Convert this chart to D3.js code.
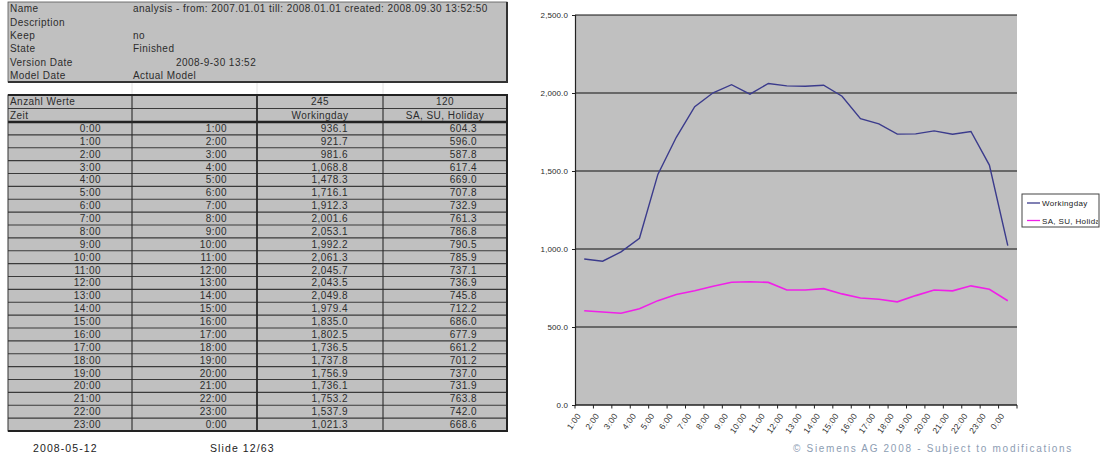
<!DOCTYPE html>
<html>
<head>
<meta charset="utf-8">
<script src="https://cdn.jsdelivr.net/npm/d3@7"></script>
<style>
  html, body { margin: 0; padding: 0; background: #fff; }
  svg { display: block; font-family: "Liberation Sans", Arial, sans-serif; }
</style>
</head>
<body>
<svg id="page" width="1102" height="459"></svg>
<script>
// Hourly load profile: interval start, interval end, average per day type
const fromTimes = ["0:00","1:00","2:00","3:00","4:00","5:00","6:00","7:00","8:00","9:00","10:00","11:00",
  "12:00","13:00","14:00","15:00","16:00","17:00","18:00","19:00","20:00","21:00","22:00","23:00"];
const toTimes = ["1:00","2:00","3:00","4:00","5:00","6:00","7:00","8:00","9:00","10:00","11:00","12:00",
  "13:00","14:00","15:00","16:00","17:00","18:00","19:00","20:00","21:00","22:00","23:00","0:00"];
const workingday = [936.1, 921.7, 981.6, 1068.8, 1478.3, 1716.1, 1912.3, 2001.6, 2053.1, 1992.2, 2061.3, 2045.7,
  2043.5, 2049.8, 1979.4, 1835.0, 1802.5, 1736.5, 1737.8, 1756.9, 1736.1, 1753.2, 1537.9, 1021.3];
const holiday = [604.3, 596.0, 587.8, 617.4, 669.0, 707.8, 732.9, 761.3, 786.8, 790.5, 785.9, 737.1,
  736.9, 745.8, 712.2, 686.0, 677.9, 661.2, 701.2, 737.0, 731.9, 763.8, 742.0, 668.6];
const seriesNames = ["Workingday", "SA, SU, Holiday"];
const valueCounts = [245, 120];
const yTickValues = [0, 500, 1000, 1500, 2000, 2500];

// Analysis header block
const metaLabels = ["Name", "Description", "Keep", "State", "Version Date", "Model Date"];
const metaValues = ["analysis - from: 2007.01.01 till: 2008.01.01 created: 2008.09.30 13:52:50", "", "no", "Finished", "2008-9-30 13:52", "Actual Model"];

const svg = d3.select("#page");
const fmt = d3.format(",.1f");
const cellFill = "#c0c0c0";
const ink = "#2c2c2c";
const cellFont = 10, cellSpacing = 0.45;

// ---------- Table ----------
const colEdges = [8, 132, 257, 383, 507];
const colRight = [101, 227, 348, 477];

// header block
const metaY = d3.scaleBand().domain(d3.range(metaLabels.length)).range([2, 82]);
const meta = svg.append("g");
meta.append("rect").attr("x", colEdges[0]).attr("y", 2).attr("width", colEdges[4] - colEdges[0]).attr("height", 80)
  .attr("fill", cellFill).attr("stroke", "#555").attr("stroke-width", 0.8);
meta.append("path").attr("d", `M${colEdges[4]},2V82H${colEdges[0]}`).attr("fill", "none")
  .attr("stroke", "#333").attr("stroke-width", 2);
meta.selectAll("text.lab").data(metaLabels).join("text").attr("class", "lab")
  .attr("x", 10).attr("y", (d, i) => metaY(i) + metaY.bandwidth() / 2 + 3.5)
  .attr("font-size", cellFont).attr("letter-spacing", cellSpacing).attr("fill", ink).text(d => d);
meta.selectAll("text.val").data(metaValues).join("text").attr("class", "val")
  .attr("x", (d, i) => i === 4 ? 176 : 133).attr("y", (d, i) => metaY(i) + metaY.bandwidth() / 2 + 3.5)
  .attr("font-size", cellFont).attr("letter-spacing", cellSpacing).attr("fill", ink).text(d => d);

// faint cell grid in the gap between the blocks
svg.append("g").selectAll("line").data(colEdges.slice(1, 4)).join("line")
  .attr("x1", d => d).attr("x2", d => d).attr("y1", 83).attr("y2", 95)
  .attr("stroke", "#e2e2e2");

// data table
const tableTop = 95, headerBottom = 122, tableBottom = 431;
const rowY = d3.scaleBand().domain(d3.range(fromTimes.length)).range([headerBottom, tableBottom]);
const headY = d3.scaleBand().domain([0, 1]).range([tableTop, headerBottom]);
const tbl = svg.append("g");
tbl.append("rect").attr("x", colEdges[0]).attr("y", tableTop).attr("width", colEdges[4] - colEdges[0])
  .attr("height", tableBottom - tableTop).attr("fill", cellFill);

// row separators
const rowLines = d3.range(1, fromTimes.length).map(i => rowY(i));
tbl.selectAll("line.row").data(rowLines).join("line").attr("class", "row")
  .attr("x1", colEdges[0]).attr("x2", colEdges[4]).attr("y1", d => d).attr("y2", d => d)
  .attr("stroke", "#3a3a3a").attr("stroke-width", 1.2);
tbl.append("line").attr("x1", colEdges[0]).attr("x2", colEdges[4]).attr("y1", headY(1)).attr("y2", headY(1))
  .attr("stroke", "#3a3a3a").attr("stroke-width", 1.2);
tbl.append("line").attr("x1", colEdges[0]).attr("x2", colEdges[4]).attr("y1", headerBottom).attr("y2", headerBottom)
  .attr("stroke", "#222").attr("stroke-width", 2.4);
// column separators
tbl.selectAll("line.col").data(colEdges.slice(1, 4)).join("line").attr("class", "col")
  .attr("x1", d => d).attr("x2", d => d).attr("y1", tableTop).attr("y2", tableBottom)
  .attr("stroke", "#2a2a2a").attr("stroke-width", (d, i) => i === 1 ? 1.8 : 1.1);
// outer frame
tbl.append("rect").attr("x", colEdges[0]).attr("y", tableTop).attr("width", colEdges[4] - colEdges[0])
  .attr("height", tableBottom - tableTop).attr("fill", "none").attr("stroke", "#333").attr("stroke-width", 1);
tbl.append("path").attr("d", `M${colEdges[0]},${tableTop}H${colEdges[4]}V${tableBottom}H${colEdges[0]}`)
  .attr("fill", "none").attr("stroke", "#222").attr("stroke-width", 2);

// header texts
const hy = i => headY(i) + headY.bandwidth() / 2 + 3.5;
tbl.append("text").attr("x", 10).attr("y", hy(0)).attr("font-size", cellFont).attr("letter-spacing", cellSpacing)
  .attr("fill", ink).text("Anzahl Werte");
tbl.append("text").attr("x", 10).attr("y", hy(1)).attr("font-size", cellFont).attr("letter-spacing", cellSpacing)
  .attr("fill", ink).text("Zeit");
tbl.selectAll("text.cnt").data(valueCounts).join("text").attr("class", "cnt")
  .attr("x", (d, i) => (colEdges[2 + i] + colEdges[3 + i]) / 2).attr("y", hy(0))
  .attr("text-anchor", "middle").attr("font-size", cellFont).attr("letter-spacing", cellSpacing)
  .attr("fill", ink).text(d => d);
tbl.selectAll("text.ser").data(seriesNames).join("text").attr("class", "ser")
  .attr("x", (d, i) => (colEdges[2 + i] + colEdges[3 + i]) / 2).attr("y", hy(1))
  .attr("text-anchor", "middle").attr("font-size", cellFont).attr("letter-spacing", cellSpacing)
  .attr("fill", ink).text(d => d);

// body texts
const rows = fromTimes.map((t, i) => [t, toTimes[i], fmt(workingday[i]), fmt(holiday[i])]);
const rowG = tbl.selectAll("g.r").data(rows).join("g").attr("class", "r")
  .attr("transform", (d, i) => `translate(0,${rowY(i) + rowY.bandwidth() / 2 + 3.5})`);
rowG.selectAll("text").data(d => d).join("text")
  .attr("x", (d, j) => colRight[j]).attr("text-anchor", "end")
  .attr("font-size", cellFont).attr("letter-spacing", cellSpacing).attr("fill", ink).text(d => d);

// footer (left)
svg.append("text").attr("x", 33).attr("y", 452).attr("font-size", 10.5).attr("fill", "#222")
  .attr("letter-spacing", 1.1).text("2008-05-12");
svg.append("text").attr("x", 210).attr("y", 452).attr("font-size", 10.5).attr("fill", "#222")
  .attr("letter-spacing", 1.1).text("Slide 12/63");

// ---------- Line chart ----------
const plot = { left: 575, right: 1017, top: 15, bottom: 405 };
const x = d3.scaleBand().domain(toTimes).range([plot.left, plot.right]);
const y = d3.scaleLinear().domain([0, 2500]).range([plot.bottom, plot.top]);
const cx = d => x(d) + x.bandwidth() / 2;

const chart = svg.append("g");
chart.append("rect").attr("x", plot.left).attr("y", plot.top)
  .attr("width", plot.right - plot.left).attr("height", plot.bottom - plot.top).attr("fill", cellFill);

// gridlines
chart.selectAll("line.grid").data(yTickValues.filter(v => v > 0)).join("line").attr("class", "grid")
  .attr("x1", plot.left).attr("x2", plot.right).attr("y1", d => y(d)).attr("y2", d => y(d))
  .attr("stroke", "#111").attr("stroke-width", 1.2);

// y axis
const yAxis = chart.append("g").attr("transform", `translate(${plot.left},0)`)
  .call(d3.axisLeft(y).tickValues(yTickValues).tickFormat(fmt).tickSize(3).tickPadding(4));
yAxis.select(".domain").attr("stroke", "#222").attr("stroke-width", 1.2);
yAxis.selectAll(".tick line").attr("stroke", "#222");
yAxis.selectAll("text").attr("font-size", 8).attr("fill", "#2a2a2a").attr("letter-spacing", 0.1)
  .attr("font-family", "Liberation Sans, Arial, sans-serif");

// x axis (ticks between categories)
const xAxis = chart.append("g").attr("transform", `translate(0,${plot.bottom})`);
xAxis.append("line").attr("x1", plot.left).attr("x2", plot.right).attr("stroke", "#222").attr("stroke-width", 1.3);
const tickPos = toTimes.map(d => x(d)).concat([plot.right]);
xAxis.selectAll("line.t").data(tickPos).join("line").attr("class", "t")
  .attr("x1", d => d).attr("x2", d => d).attr("y1", 0).attr("y2", 3.5).attr("stroke", "#222");
xAxis.selectAll("text").data(toTimes).join("text")
  .attr("transform", d => `translate(${cx(d) - 3},${11}) rotate(-55)`)
  .attr("text-anchor", "end").attr("font-size", 8.5).attr("letter-spacing", 0.2)
  .attr("fill", "#333").text(d => d);

// series
const line = d3.line().x((d, i) => cx(toTimes[i])).y(d => y(d));
chart.append("path").datum(holiday).attr("d", line).attr("fill", "none")
  .attr("stroke", "#f020e8").attr("stroke-width", 1.6);
chart.append("path").datum(workingday).attr("d", line).attr("fill", "none")
  .attr("stroke", "#3b3b8c").attr("stroke-width", 1.4);

// legend (entries clipped to the box)
const lg = { x: 1022, y: 194, w: 77, h: 33 };
svg.append("clipPath").attr("id", "legclip").append("rect")
  .attr("x", lg.x).attr("y", lg.y).attr("width", lg.w - 1).attr("height", lg.h);
const legend = svg.append("g");
legend.append("rect").attr("x", lg.x).attr("y", lg.y).attr("width", lg.w).attr("height", lg.h)
  .attr("fill", "#fff").attr("stroke", "#444").attr("stroke-width", 1);
const legColors = ["#3b3b8c", "#f020e8"];
const legItems = legend.append("g").attr("clip-path", "url(#legclip)")
  .selectAll("g").data(seriesNames).join("g")
  .attr("transform", (d, i) => `translate(${lg.x + 5},${lg.y + 9 + i * 17.5})`);
legItems.append("line").attr("x1", 0).attr("x2", 13).attr("stroke", (d, i) => legColors[i]).attr("stroke-width", 1.3);
legItems.append("text").attr("x", 15).attr("y", 3).attr("font-size", 8).attr("letter-spacing", 0.35)
  .attr("fill", "#222").text(d => d);

// footer (right)
svg.append("text").attr("x", 793).attr("y", 452).attr("font-size", 10).attr("fill", "#8d9db3")
  .attr("letter-spacing", 1.7).text("© Siemens AG 2008 - Subject to modifications");
</script>
</body>
</html>
